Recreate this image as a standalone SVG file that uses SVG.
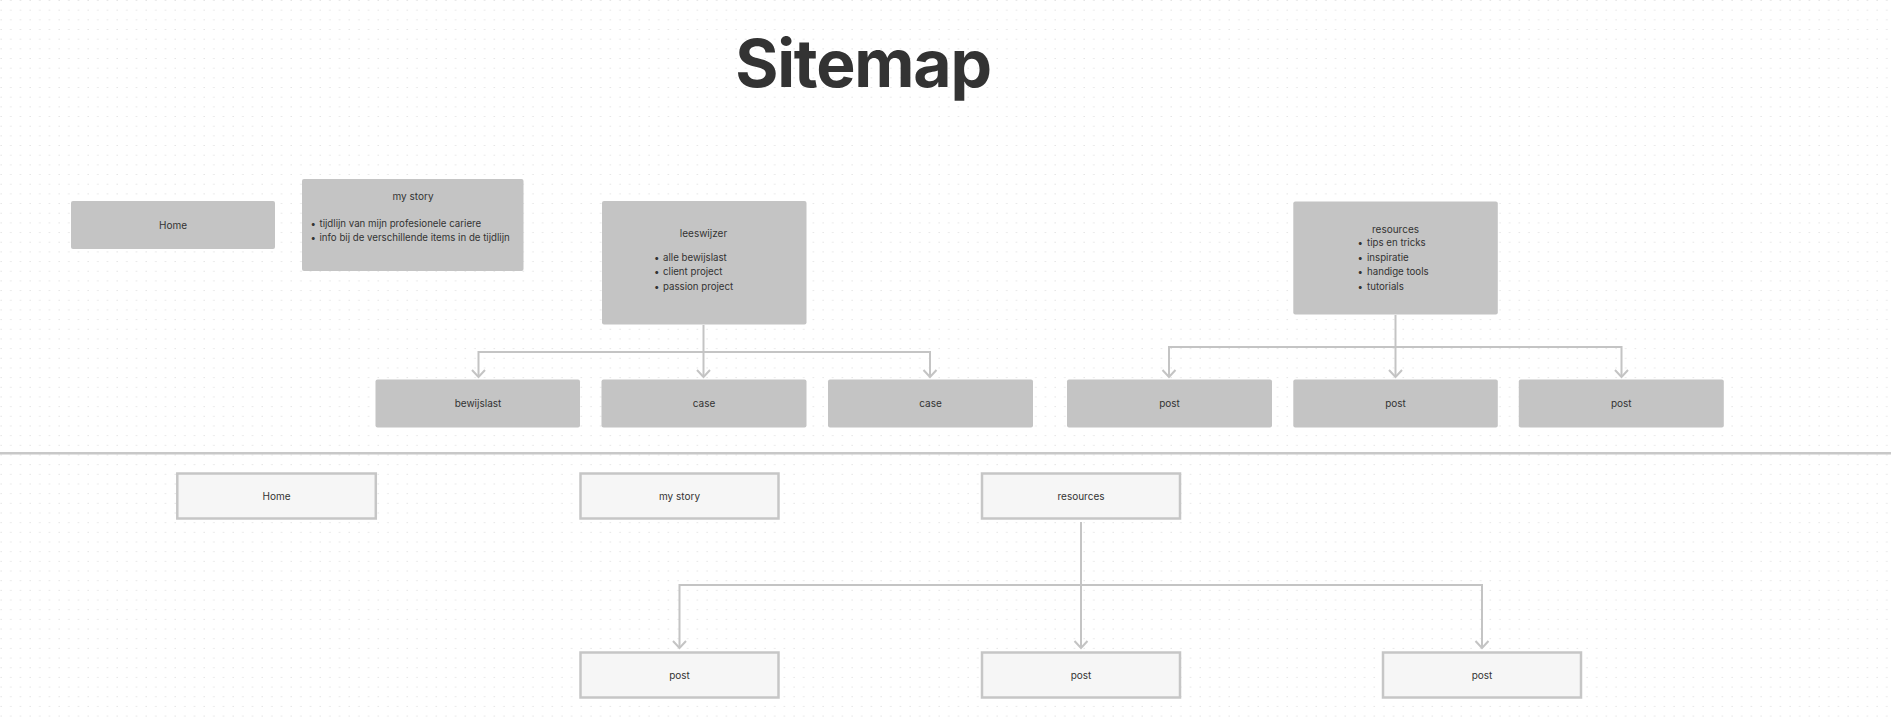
<svg xmlns="http://www.w3.org/2000/svg" width="1891" height="718" viewBox="0 0 1891 718">
<style>
.t{font-family:Inter,"Liberation Sans",sans-serif;font-size:10px;fill:#333}
.b{font-size:9.7px}
.c{text-anchor:middle}
.title{font-family:Inter,"Liberation Sans",sans-serif;font-size:66px;font-weight:700;fill:#333;text-anchor:middle;letter-spacing:-1.2px}
.box{fill:#c4c4c4}
.box2{fill:#f6f6f6;stroke:#c6c6c6;stroke-width:2.5}
.ln{fill:none;stroke:#c4c4c4;stroke-width:2}
.ar{marker-end:url(#arr)}
</style>
<defs>
<pattern id="dots" patternUnits="userSpaceOnUse" width="9.67" height="9.67">
<rect x="0.6" y="0" width="1" height="1" fill="#d6d6d6"/>
</pattern>
<marker id="arr" markerUnits="userSpaceOnUse" markerWidth="20" markerHeight="20" viewBox="-10 -10 20 20" refX="0" refY="0" orient="auto">
<path d="M-7,-6.5 L0,0 L-7,6.5" fill="none" stroke="#c4c4c4" stroke-width="2"/>
</marker>
</defs>
<rect width="1891" height="718" fill="#ffffff"/>
<rect width="1891" height="718" fill="url(#dots)"/>
<text class="title" x="863" y="87">Sitemap</text>
<g id="connectors">
<path class="ln ar" d="M703.5,325 V377"/>
<path class="ln ar" d="M703.5,352 H478.5 V377"/>
<path class="ln ar" d="M703.5,352 H930 V377"/>
<path class="ln ar" d="M1395.5,315 V377"/>
<path class="ln ar" d="M1395.5,347 H1169 V377"/>
<path class="ln ar" d="M1395.5,347 H1621.5 V377"/>
<path class="ln ar" d="M1081,522 V648"/>
<path class="ln ar" d="M1081,585 H679.5 V648"/>
<path class="ln ar" d="M1081,585 H1482 V648"/>
<line x1="0" y1="453.3" x2="1891" y2="453.3" stroke="#c8c8c8" stroke-width="2.5"/>
</g>
<g id="home-top"><rect class="box" x="71" y="201" width="204" height="48" rx="2"/><text class="t c" x="173" y="228.5">Home</text></g>
<g id="mystory-top"><rect class="box" x="302" y="179" width="221.5" height="92" rx="2"/>
<text class="t c" x="413" y="200">my story</text>
<text class="t b" x="310.5" y="226.5">•</text><text class="t b" x="319.5" y="226.5">tijdlijn van mijn profesionele cariere</text>
<text class="t b" x="310.5" y="240.5">•</text><text class="t b" x="319.5" y="240.5">info bij de verschillende items in de tijdlijn</text>
</g>
<g id="leeswijzer"><rect class="box" x="602" y="201" width="204.5" height="123.5" rx="2"/>
<text class="t c" x="703.5" y="237">leeswijzer</text>
<text class="t b" x="654" y="260.5">•</text><text class="t b" x="663" y="260.5">alle bewijslast</text>
<text class="t b" x="654" y="275">•</text><text class="t b" x="663" y="275">client project</text>
<text class="t b" x="654" y="289.5">•</text><text class="t b" x="663" y="289.5">passion project</text>
</g>
<g id="resources-top"><rect class="box" x="1293.3" y="201.5" width="204.5" height="113" rx="2"/>
<text class="t c" x="1395.5" y="232.5">resources</text>
<text class="t b" x="1357.5" y="246">•</text><text class="t b" x="1367" y="246">tips en tricks</text>
<text class="t b" x="1357.5" y="260.5">•</text><text class="t b" x="1367" y="260.5">inspiratie</text>
<text class="t b" x="1357.5" y="275">•</text><text class="t b" x="1367" y="275">handige tools</text>
<text class="t b" x="1357.5" y="289.5">•</text><text class="t b" x="1367" y="289.5">tutorials</text>
</g>
<g id="bewijslast"><rect class="box" x="375.5" y="379.5" width="204.5" height="48" rx="2"/><text class="t c" x="478" y="407">bewijslast</text></g>
<g id="case1"><rect class="box" x="601.5" y="379.5" width="205" height="48" rx="2"/><text class="t c" x="704" y="407">case</text></g>
<g id="case2"><rect class="box" x="828" y="379.5" width="205" height="48" rx="2"/><text class="t c" x="930.5" y="407">case</text></g>
<g id="post-t1"><rect class="box" x="1067" y="379.5" width="205" height="48" rx="2"/><text class="t c" x="1169.5" y="407">post</text></g>
<g id="post-t2"><rect class="box" x="1293.3" y="379.5" width="204.5" height="48" rx="2"/><text class="t c" x="1395.5" y="407">post</text></g>
<g id="post-t3"><rect class="box" x="1518.8" y="379.5" width="205" height="48" rx="2"/><text class="t c" x="1621.3" y="407">post</text></g>
<g id="home-b"><rect class="box2" x="177.3" y="473.5" width="198.5" height="45"/><text class="t c" x="276.5" y="500">Home</text></g>
<g id="mystory-b"><rect class="box2" x="580.5" y="473.5" width="198" height="45"/><text class="t c" x="679.5" y="500">my story</text></g>
<g id="resources-b"><rect class="box2" x="982" y="473.5" width="198" height="45"/><text class="t c" x="1081" y="500">resources</text></g>
<g id="post-b1"><rect class="box2" x="580.5" y="652.5" width="198" height="45"/><text class="t c" x="679.5" y="678.5">post</text></g>
<g id="post-b2"><rect class="box2" x="982" y="652.5" width="198" height="45"/><text class="t c" x="1081" y="678.5">post</text></g>
<g id="post-b3"><rect class="box2" x="1383" y="652.5" width="198" height="45"/><text class="t c" x="1482" y="678.5">post</text></g>
</svg>
